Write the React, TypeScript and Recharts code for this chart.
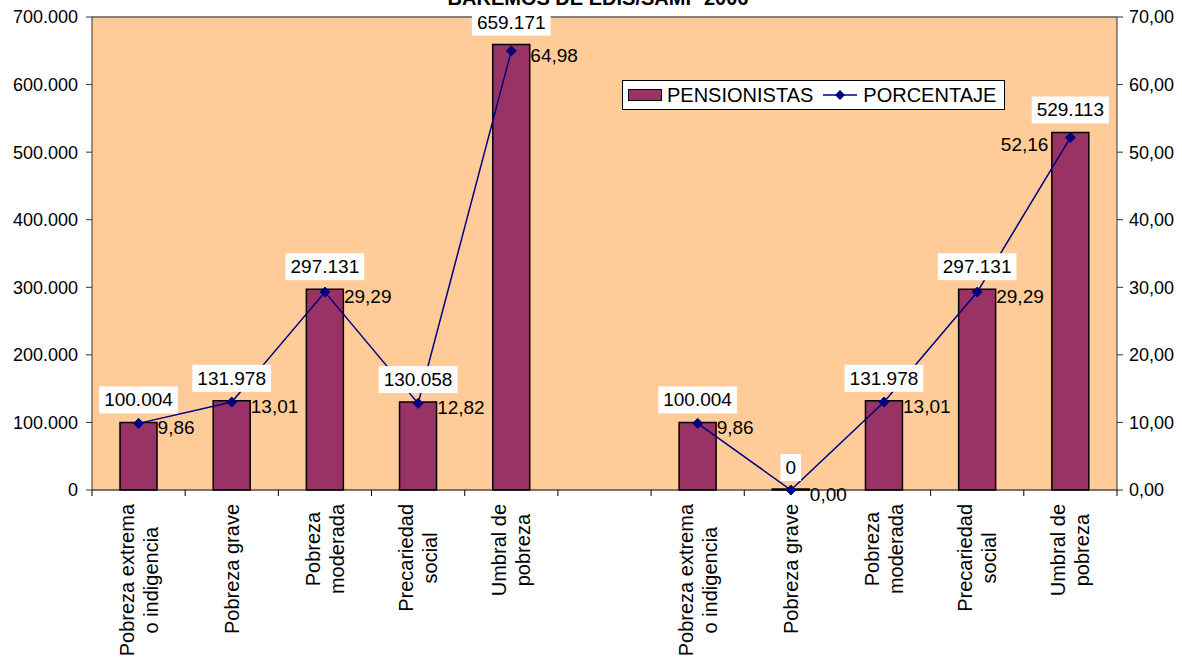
import React from "react";
import {
  ComposedChart,
  Bar,
  Line,
  XAxis,
  YAxis,
  CartesianGrid,
  Legend,
  LabelList,
  ReferenceLine,
} from "recharts";

const FONT = "Arial, 'Liberation Sans', sans-serif";

const categories = [
  "Pobreza extrema\no indigencia",
  "Pobreza grave",
  "Pobreza\nmoderada",
  "Precariedad\nsocial",
  "Umbral de\npobreza",
  "",
  "Pobreza extrema\no indigencia",
  "Pobreza grave",
  "Pobreza\nmoderada",
  "Precariedad\nsocial",
  "Umbral de\npobreza",
];

const pensionistas = [100004, 131978, 297131, 130058, 659171, null, 100004, 0, 131978, 297131, 529113];
const porcentaje = [9.86, 13.01, 29.29, 12.82, 64.98, null, 9.86, 0, 13.01, 29.29, 52.16];

const leftTicks = [0, 100000, 200000, 300000, 400000, 500000, 600000, 700000];
const rightTicks = [0, 10, 20, 30, 40, 50, 60, 70];

const data = categories.map((name, i) => ({
  name,
  pensionistas: pensionistas[i],
  porcentaje: porcentaje[i],
}));

const W = 1182;
const H = 657;
const PLOT_W = 1117 - 92;
const BAND = PLOT_W / categories.length;

let ctx: CanvasRenderingContext2D | null = null;
function textWidth(s: string, size: number) {
  if (!ctx) ctx = document.createElement("canvas").getContext("2d");
  if (!ctx) return s.length * size * 0.55;
  ctx.font = `${size}px ${FONT}`;
  return ctx.measureText(s).width;
}

const thousands = (n: number) => String(n).replace(/\B(?=(\d{3})+(?!\d))/g, ".");
const decimal = (n: number) => n.toFixed(2).replace(".", ",");

function CatTick(props: any) {
  const { x, y, payload, index } = props;
  const lines = String(payload.value).split("\n").filter((l) => l.length > 0);
  const maxW = Math.max(0, ...lines.map((l) => textWidth(l, 20)));
  const n = lines.length;
  return (
    <g>
      <line x1={x - BAND / 2} x2={x - BAND / 2} y1={y} y2={y + 6} stroke="#000" />
      {index === categories.length - 1 && (
        <line x1={x + BAND / 2} x2={x + BAND / 2} y1={y} y2={y + 6} stroke="#000" />
      )}
      <g transform={`translate(${x},${y}) rotate(-90)`}>
        {lines.map((l, i) => (
          <text
            key={i}
            x={-(14 + maxW / 2)}
            y={(i - (n - 1) / 2) * 24 + 7}
            textAnchor="middle"
            fontSize={20}
            fontFamily={FONT}
            fill="#000"
          >
            {l}
          </text>
        ))}
      </g>
    </g>
  );
}

function BarValue(props: any) {
  const { x, y, width, height, value } = props;
  if (value === null || value === undefined) return null;
  const s = thousands(value);
  const tw = textWidth(s, 19);
  const cx = x + width / 2;
  // zero bars get a 1px minimum height, so anchor on the bar bottom
  const top = value === 0 ? y + height : y;
  return (
    <g>
      <rect x={cx - tw / 2 - 5} y={top - 36} width={tw + 10} height={27} fill="#fff" />
      <text x={cx} y={top - 16} textAnchor="middle" fontSize={19} fontFamily={FONT} fill="#000">
        {s}
      </text>
    </g>
  );
}

function LineValue(props: any) {
  const { x, y, value, index } = props;
  if (value === null || value === undefined) return null;
  const last = index === categories.length - 1;
  return (
    <text
      x={last ? x - 22 : x + 19}
      y={last ? y + 13 : y + 11}
      textAnchor={last ? "end" : "start"}
      fontSize={19}
      fontFamily={FONT}
      fill="#000"
    >
      {decimal(value)}
    </text>
  );
}

function Diamond(props: any) {
  const { cx, cy, payload } = props;
  if (payload.porcentaje === null || cx == null || cy == null) return null;
  const r = 5;
  return (
    <path
      d={`M${cx},${cy - r} L${cx + r},${cy} L${cx},${cy + r} L${cx - r},${cy} Z`}
      fill="#000080"
      stroke="#000080"
    />
  );
}

function LegendBox() {
  return (
    <div
      style={{
        width: 381,
        height: 28,
        border: "1px solid #000",
        background: "#fff",
        display: "flex",
        alignItems: "center",
        fontFamily: FONT,
        fontSize: 20,
        color: "#000",
        boxSizing: "content-box",
      }}
    >
      <span
        style={{
          display: "inline-block",
          width: 32,
          height: 10,
          background: "#993366",
          border: "1px solid #000",
          marginLeft: 5,
          marginRight: 5,
        }}
      />
      <span>PENSIONISTAS</span>
      <svg width={36} height={14} style={{ marginLeft: 10, marginRight: 4 }}>
        <line x1={0} x2={34} y1={7} y2={7} stroke="#000080" strokeWidth={1.5} />
        <path d="M17,2 L22,7 L17,12 L12,7 Z" fill="#000080" />
      </svg>
      <span>PORCENTAJE</span>
    </div>
  );
}

export default function App() {
  return (
    <div style={{ position: "relative", width: W, height: H, overflow: "hidden" }}>
      <style>{`body{margin:0}`}</style>
      <div
        style={{
          position: "absolute",
          top: -12,
          left: 0,
          width: 1196,
          textAlign: "center",
          fontFamily: FONT,
          fontSize: 20,
          fontWeight: "bold",
          lineHeight: "20px",
        }}
      >
        BAREMOS DE EDIS/SAMP 2006
      </div>
      <ComposedChart
        width={W}
        height={H}
        data={data}
        margin={{ top: 17, right: 5, bottom: 7, left: 4 }}
      >
        <CartesianGrid fill="#FFCC99" horizontal={false} vertical={false} />
        <XAxis
          dataKey="name"
          interval={0}
          height={160}
          tickSize={0}
          tickMargin={0}
          tick={<CatTick />}
          axisLine={{ stroke: "#000" }}
        />
        <YAxis
          yAxisId="left"
          width={88}
          domain={[0, 700000]}
          ticks={leftTicks}
          tickFormatter={thousands}
          tickSize={6}
          tickMargin={8}
          axisLine={{ stroke: "#333" }}
          tickLine={{ stroke: "#333" }}
          tick={{ fontSize: 18, fontFamily: FONT, fill: "#000" }}
        />
        <YAxis
          yAxisId="right"
          orientation="right"
          width={60}
          domain={[0, 70]}
          ticks={rightTicks}
          tickFormatter={(v: number) => decimal(v)}
          tickSize={6}
          tickMargin={6}
          axisLine={{ stroke: "#333" }}
          tickLine={{ stroke: "#333" }}
          tick={{ fontSize: 18, fontFamily: FONT, fill: "#000" }}
        />
        <ReferenceLine yAxisId="left" y={700000} stroke="#808080" strokeWidth={2} />
        <Legend
          layout="horizontal"
          verticalAlign="middle"
          align="center"
          content={<LegendBox />}
          wrapperStyle={{ position: "absolute", left: 622, top: 80, width: 383, height: 30 }}
        />
        <Bar
          yAxisId="left"
          dataKey="pensionistas"
          name="PENSIONISTAS"
          fill="#993366"
          stroke="#000"
          strokeWidth={1.5}
          barSize={37}
          minPointSize={(v: number) => (v === 0 ? 1 : 0)}
          isAnimationActive={false}
        >
          <LabelList dataKey="pensionistas" content={<BarValue />} />
        </Bar>
        <Line
          yAxisId="right"
          dataKey="porcentaje"
          name="PORCENTAJE"
          stroke="#000080"
          strokeWidth={1.5}
          dot={<Diamond />}
          activeDot={false}
          connectNulls={false}
          isAnimationActive={false}
        >
          <LabelList dataKey="porcentaje" content={<LineValue />} />
        </Line>
      </ComposedChart>
    </div>
  );
}
